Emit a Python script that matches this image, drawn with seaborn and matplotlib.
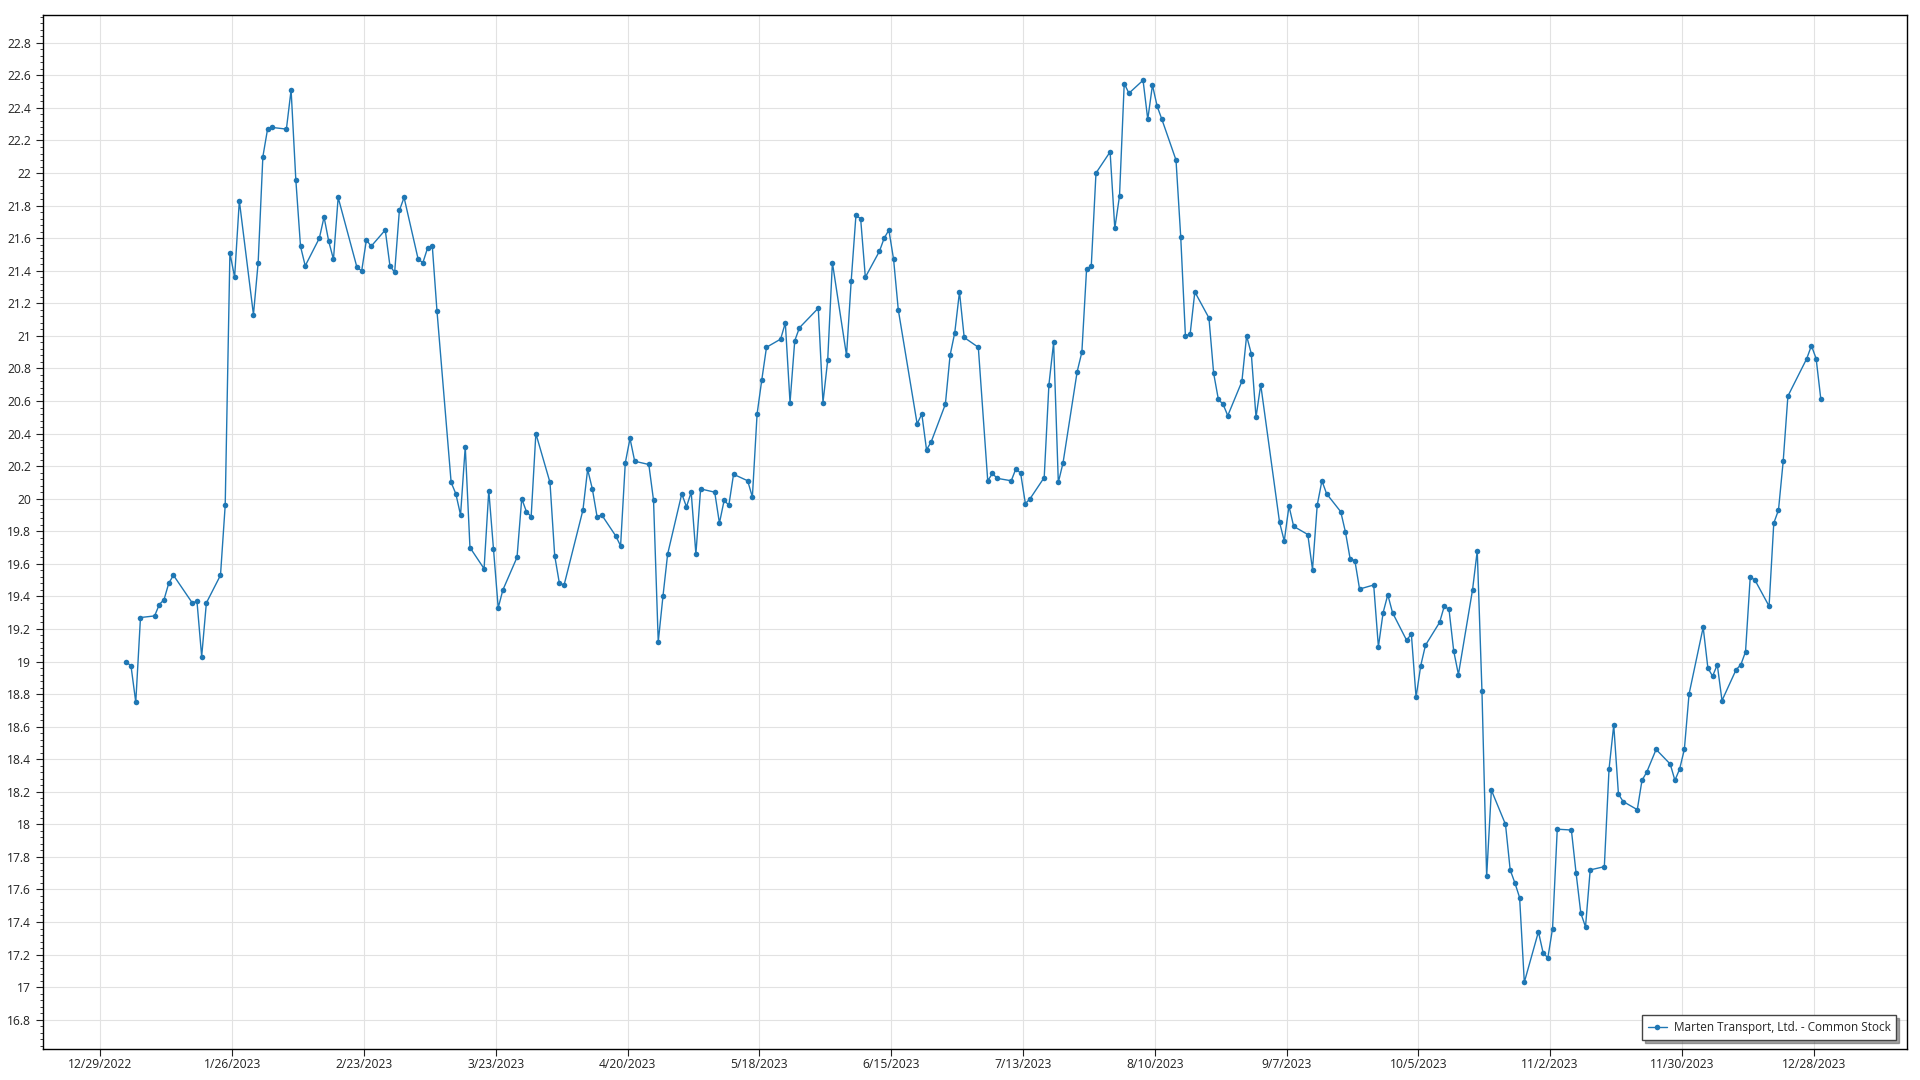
import pandas as pd
import seaborn as sns
import matplotlib.pyplot as plt
from matplotlib.ticker import MultipleLocator, AutoMinorLocator, FuncFormatter

# closing prices, one list per month (trading days only)
jan = [19.00, 18.97, 18.75, 19.27, 19.28, 19.35, 19.38, 19.48, 19.53, 19.36,
       19.37, 19.03, 19.36, 19.53, 19.96, 21.51, 21.36, 21.83, 21.13, 21.45]
feb = [22.10, 22.27, 22.28, 22.27, 22.51, 21.96, 21.55, 21.43, 21.60, 21.73,
       21.58, 21.47, 21.85, 21.42, 21.40, 21.59, 21.55, 21.65, 21.43]
mar = [21.39, 21.77, 21.85, 21.47, 21.45, 21.54, 21.55, 21.15, 20.10, 20.03,
       19.90, 20.32, 19.70, 19.57, 20.05, 19.69, 19.33, 19.44, 19.64, 20.00,
       19.92, 19.89, 20.40]
apr = [20.10, 19.65, 19.48, 19.47, 19.93, 20.18, 20.06, 19.89, 19.90, 19.77,
       19.71, 20.22, 20.37, 20.23, 20.21, 19.99, 19.12, 19.40, 19.66]
may = [20.03, 19.95, 20.04, 19.66, 20.06, 20.04, 19.85, 19.99, 19.96, 20.15,
       20.11, 20.01, 20.52, 20.73, 20.93, 20.98, 21.08, 20.59, 20.97, 21.05,
       21.17, 20.59]
jun = [20.85, 21.45, 20.88, 21.34, 21.74, 21.72, 21.36, 21.52, 21.60, 21.65,
       21.47, 21.16, 20.46, 20.52, 20.30, 20.35, 20.58, 20.88, 21.02, 21.27,
       20.99]
jul = [20.93, 20.11, 20.155, 20.125, 20.11, 20.185, 20.155, 19.97, 20.00, 20.13,
       20.70, 20.96, 20.10, 20.22, 20.78, 20.90, 21.41, 21.43, 22.00, 22.13]
aug = [21.66, 21.86, 22.55, 22.49, 22.57, 22.33, 22.54, 22.41, 22.33, 22.08,
       21.61, 21.00, 21.01, 21.27, 21.11, 20.77, 20.61, 20.58, 20.51, 20.72,
       21.00, 20.89, 20.50]
sep = [20.70, 19.855, 19.74, 19.955, 19.83, 19.78, 19.565, 19.96, 20.11, 20.03,
       19.92, 19.795, 19.63, 19.62, 19.445, 19.47, 19.09, 19.30, 19.41, 19.30]
oct_ = [19.13, 19.17, 18.78, 18.975, 19.10, 19.24, 19.34, 19.32, 19.065, 18.92,
        19.44, 19.68, 18.82, 17.68, 18.21, 18.00, 17.72, 17.64, 17.55, 17.03,
        17.34, 17.21]
nov = [17.18, 17.36, 17.97, 17.965, 17.70, 17.455, 17.37, 17.72, 17.74, 18.34,
       18.61, 18.185, 18.14, 18.09, 18.27, 18.32, 18.46, 18.37, 18.27, 18.34,
       18.46]
dec = [18.80, 19.21, 18.96, 18.91, 18.98, 18.76, 18.95, 18.98, 19.06, 19.52,
       19.50, 19.34, 19.85, 19.93, 20.23, 20.63, 20.86, 20.94, 20.86, 20.61]

holidays = ["2023-01-02", "2023-01-16", "2023-02-20", "2023-04-07", "2023-05-29",
            "2023-06-19", "2023-07-04", "2023-09-04", "2023-11-23", "2023-12-25"]

series_name = "Marten Transport, Ltd. - Common Stock"

prices = jan + feb + mar + apr + may + jun + jul + aug + sep + oct_ + nov + dec
dates = pd.bdate_range("2023-01-03", "2023-12-29", freq="C", holidays=holidays)
# points sit half a day right of the date ticks in the original
df = pd.DataFrame({"Date": dates + pd.Timedelta(hours=12), "Close": prices})

tick_dates = pd.date_range("2022-12-29", "2023-12-28", freq="28D")
tick_labels = [f"{d.month}/{d.day}/{d.year}" for d in tick_dates]

sns.set_style("white")
plt.rcParams["font.family"] = ["Open Sans", "DejaVu Sans"]

fig = plt.figure(figsize=(19.2, 10.8), dpi=100)
ax = fig.add_axes([0.0224, 0.0287, 0.9708, 0.9573])

sns.lineplot(data=df, x="Date", y="Close", ax=ax, color="#1f77b4",
             linewidth=1.0, marker="o", markersize=4, markeredgewidth=0,
             label=series_name)

ax.set_xlim(pd.Timestamp("2022-12-16 19:00"), pd.Timestamp("2024-01-16 19:00"))
ax.set_ylim(16.62, 22.97)
ax.set_xticks(tick_dates)
ax.set_xticklabels(tick_labels)
ax.yaxis.set_major_locator(MultipleLocator(0.2))
ax.yaxis.set_minor_locator(AutoMinorLocator(5))
ax.yaxis.set_major_formatter(FuncFormatter(lambda v, p: f"{v:.1f}".rstrip("0").rstrip(".")))

ax.grid(True, which="major", color="#e2e2e2", linewidth=0.8)
ax.set_axisbelow(True)
ax.tick_params(axis="both", which="major", labelsize=8.7, colors="#222222",
               length=5, width=0.8, direction="out")
ax.tick_params(axis="x", which="major", pad=1.5)
ax.tick_params(axis="y", which="minor", length=2.5, width=0.6, color="#222222", left=True)
ax.tick_params(axis="x", which="both", bottom=True)
ax.tick_params(axis="y", which="both", left=True)
for s in ax.spines.values():
    s.set_color("black")
    s.set_linewidth(1.0)
ax.set_xlabel("")
ax.set_ylabel("")

leg = ax.legend(loc="lower right", fontsize=8.5, frameon=True, fancybox=False,
                shadow=True, edgecolor="#444444", borderpad=0.5,
                handlelength=1.6, handletextpad=0.6,
                bbox_to_anchor=(0.9975, 0.003))
leg.get_frame().set_linewidth(1.0)

fig.savefig("out.png", dpi=100)
